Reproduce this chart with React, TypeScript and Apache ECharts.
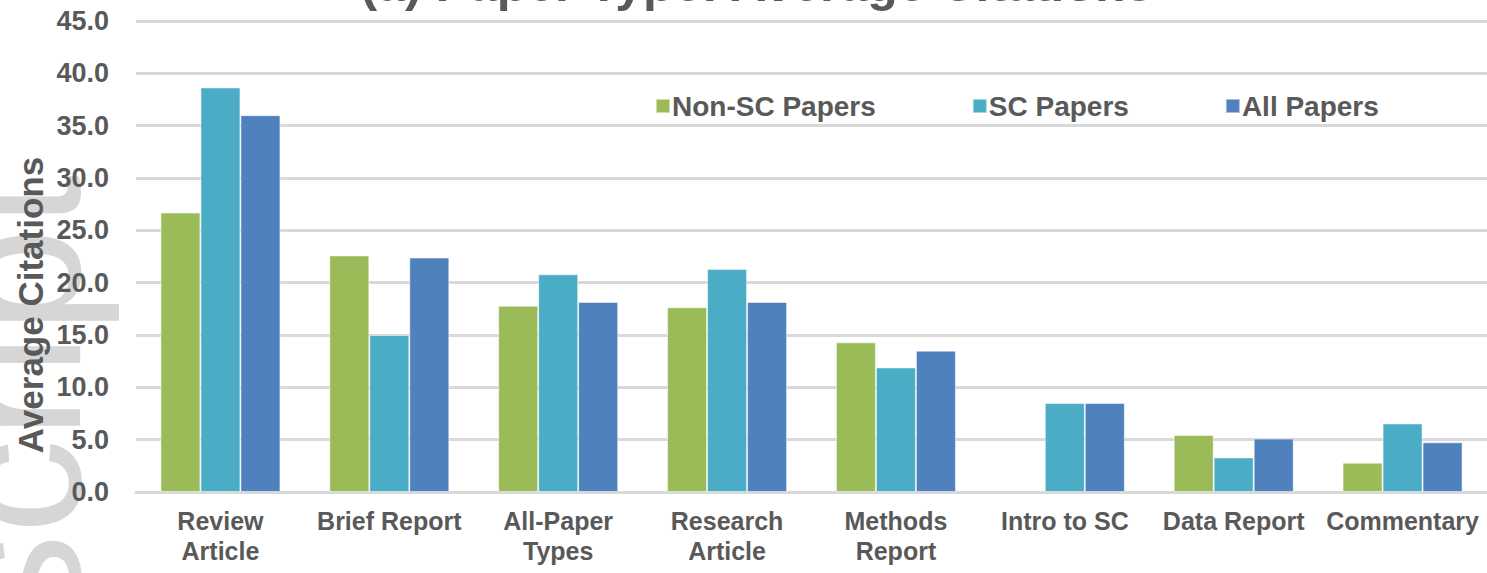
import React, { useEffect, useRef } from "react";
import * as echarts from "echarts";

const categories = [
  "Review\nArticle",
  "Brief Report",
  "All-Paper\nTypes",
  "Research\nArticle",
  "Methods\nReport",
  "Intro to SC",
  "Data Report",
  "Commentary",
];
const seriesNames = ["Non-SC Papers", "SC Papers", "All Papers"];
const nonScPapers = [26.7, 22.6, 17.8, 17.65, 14.3, null, 5.45, 2.8];
const scPapers = [38.65, 15.0, 20.8, 21.3, 11.9, 8.5, 3.3, 6.55];
const allPapers = [36.0, 22.4, 18.15, 18.15, 13.5, 8.5, 5.1, 4.75];
const colors = ["#9BBB59", "#4BACC6", "#4F81BD"];
const titleText = "(a) Paper Type: Average Citations";
const yAxisTitle = "Average Citations";
const watermarkText = "Manuscript";

const FONT = "'Liberation Sans', Arial, Helvetica, sans-serif";
const GRAY = "#595959";

export default function App() {
  const ref = useRef<HTMLDivElement>(null);
  useEffect(() => {
    if (!ref.current) return;
    const chart = echarts.init(ref.current, null, { renderer: "svg" });
    const data = [nonScPapers, scPapers, allPapers];
    chart.setOption({
      animation: false,
      backgroundColor: "#ffffff",
      textStyle: { fontFamily: FONT },
      graphic: [
        {
          type: "text",
          x: 14,
          y: 175,
          rotation: Math.PI / 2,
          z: -10,
          silent: true,
          style: {
            text: watermarkText,
            fontSize: 190,
            fontFamily: FONT,
            fill: "#d6d6d6",
            align: "right",
            verticalAlign: "middle",
          },
        },
        {
          type: "text",
          x: 757,
          y: -16,
          style: {
            text: titleText,
            fontSize: 50,
            fontWeight: "bold",
            fontFamily: FONT,
            fill: GRAY,
            align: "center",
            verticalAlign: "middle",
          },
        },
        {
          type: "text",
          x: 30,
          y: 305,
          rotation: Math.PI / 2,
          style: {
            text: yAxisTitle,
            fontSize: 35,
            fontWeight: "bold",
            fontFamily: FONT,
            fill: GRAY,
            align: "center",
            verticalAlign: "middle",
          },
        },
      ],
      legend: {
        data: seriesNames,
        left: 650,
        top: 87,
        icon: "rect",
        itemWidth: 14,
        itemHeight: 14,
        itemGap: 96,
        textStyle: {
          fontSize: 28,
          fontWeight: "bold",
          color: GRAY,
          fontFamily: FONT,
          padding: [0, 0, 0, -3],
        },
      },
      grid: { left: 136, top: 21, width: 1364, bottom: 81, containLabel: false },
      xAxis: {
        type: "category",
        data: categories,
        axisLine: { lineStyle: { color: "#d9d9d9", width: 3 } },
        axisTick: { show: false },
        axisLabel: {
          interval: 0,
          fontSize: 25,
          fontWeight: "bold",
          color: GRAY,
          lineHeight: 30,
          margin: 14,
          fontFamily: FONT,
        },
      },
      yAxis: {
        type: "value",
        min: 0,
        max: 45,
        interval: 5,
        axisLine: { show: false },
        axisTick: { show: false },
        splitLine: { lineStyle: { color: "#d9d9d9", width: 3 } },
        axisLabel: {
          fontSize: 27,
          fontWeight: "bold",
          color: GRAY,
          margin: 27,
          fontFamily: FONT,
          formatter: (v: number) => v.toFixed(1),
        },
      },
      series: seriesNames.map((name, i) => ({
        name,
        type: "bar",
        data: data[i],
        barWidth: 40,
        barGap: "0%",
        itemStyle: { color: colors[i], borderColor: "rgba(255,255,255,0.5)", borderWidth: 1 },
      })),
    });
    return () => chart.dispose();
  }, []);
  return (
    <div
      ref={ref}
      style={{ position: "fixed", left: 0, top: 0, width: 1487, height: 573 }}
    />
  );
}
